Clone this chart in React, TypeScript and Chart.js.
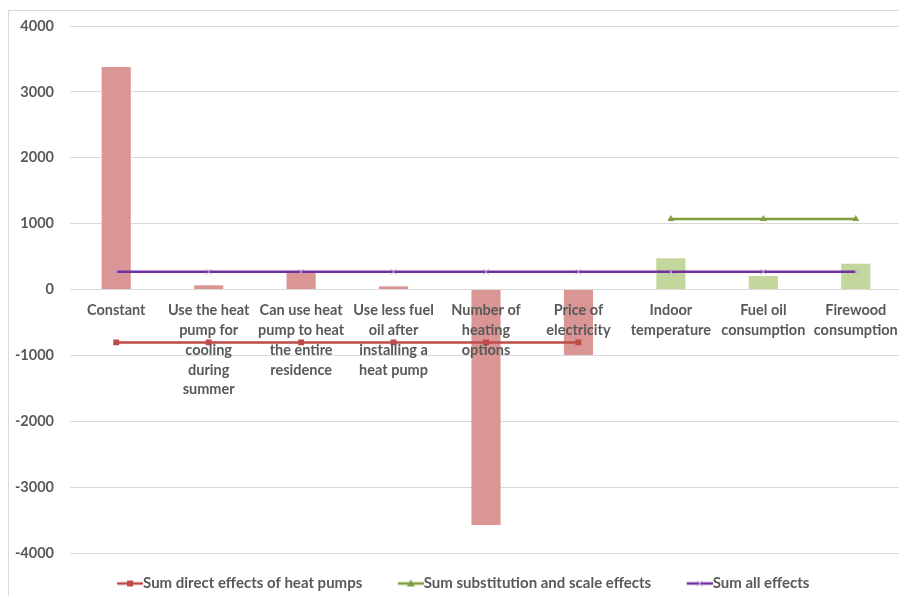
import React, { useEffect, useRef } from 'react';
import { Chart, registerables } from 'chart.js';

Chart.register(...registerables);

const categories: string[][] = [
  ['Constant'],
  ['Use the heat', 'pump for', 'cooling', 'during', 'summer'],
  ['Can use heat', 'pump to heat', 'the entire', 'residence'],
  ['Use less fuel', 'oil after', 'installing a', 'heat pump'],
  ['Number of', 'heating', 'options'],
  ['Price of', 'electricity'],
  ['Indoor', 'temperature'],
  ['Fuel oil', 'consumption'],
  ['Firewood', 'consumption'],
];
const effectValues = [3376, 64, 280, 48, -3576, -995, 474, 205, 392];
const effectGroup = ['direct', 'direct', 'direct', 'direct', 'direct', 'direct', 'subst', 'subst', 'subst'];
const directSum = [-803, -803, -803, -803, -803, -803, null, null, null];
const substSum = [null, null, null, null, null, null, 1071, 1071, 1071];
const allSum = [268, 268, 268, 268, 268, 268, 268, 268, 268];
const seriesNames = ['Sum direct effects of heat pumps', 'Sum substitution and scale effects', 'Sum all effects'];
const yMin = -4000;
const yMax = 4000;
const yStep = 1000;

const RED_BAR = '#d99694';
const GREEN_BAR = '#c3d69b';
const RED_LINE = '#be4b48';
const GREEN_LINE = '#7f9f3f';
const PURPLE_LINE = '#7030a0';
const TEXT = '#595959';
const GRID = '#d9d9d9';
const FONT = 'Lato, "Open Sans", sans-serif';

function drawMarker(ctx: CanvasRenderingContext2D, style: string, x: number, y: number, color: string) {
  ctx.save();
  ctx.fillStyle = color;
  ctx.strokeStyle = color;
  if (style === 'rect') {
    ctx.fillRect(x - 3, y - 3, 6, 6);
  } else if (style === 'triangle') {
    ctx.beginPath();
    ctx.moveTo(x, y - 4);
    ctx.lineTo(x + 4, y + 3);
    ctx.lineTo(x - 4, y + 3);
    ctx.closePath();
    ctx.fill();
  } else {
    ctx.lineWidth = 1;
    ctx.strokeStyle = '#b9a3cf';
    ctx.beginPath();
    ctx.moveTo(x - 3, y - 3);
    ctx.lineTo(x + 3, y + 3);
    ctx.moveTo(x + 3, y - 3);
    ctx.lineTo(x - 3, y + 3);
    ctx.stroke();
  }
  ctx.restore();
}

function makeIcon(color: string, style: string, w: number): HTMLCanvasElement {
  const c = document.createElement('canvas');
  c.width = w;
  c.height = 12;
  const ctx = c.getContext('2d')!;
  ctx.strokeStyle = color;
  ctx.lineWidth = 2.5;
  ctx.beginPath();
  ctx.moveTo(w - 26, 6);
  ctx.lineTo(w, 6);
  ctx.stroke();
  drawMarker(ctx, style, w - 13, 6, color);
  return c;
}

const categoryLabelPlugin = {
  id: 'categoryLabels',
  afterLayout(chart: any) {
    if (chart.legend) {
      chart.legend.left -= 9;
      chart.legend.right -= 9;
      chart.legend.top += 3;
      chart.legend.bottom += 3;
    }
  },
  afterDatasetsDraw(chart: any) {
    const { ctx, scales } = chart;
    const x = scales.x;
    const y = scales.y;
    const y0 = y.getPixelForValue(0) + 14;
    ctx.save();
    ctx.font = `bold 14.5px ${FONT}`;
    ctx.fillStyle = TEXT;
    ctx.textAlign = 'center';
    ctx.textBaseline = 'top';
    categories.forEach((lines, i) => {
      const px = x.getPixelForValue(i);
      lines.forEach((line, j) => {
        ctx.fillText(line, px, y0 + j * 19.7);
      });
    });
    ctx.restore();
  },
};

export default function App() {
  const ref = useRef<HTMLCanvasElement | null>(null);

  useEffect(() => {
    if (!ref.current) return;
    const icons = [makeIcon(RED_LINE, 'rect', 65), makeIcon(GREEN_LINE, 'triangle', 65), makeIcon(PURPLE_LINE, 'cross', 65)];
    const chart = new Chart(ref.current, {
      type: 'bar',
      data: {
        labels: categories.map((c) => c.join(' ')),
        datasets: [
          {
            type: 'bar',
            label: 'Effects',
            data: effectValues,
            backgroundColor: effectGroup.map((g) => (g === 'direct' ? RED_BAR : GREEN_BAR)),
            barPercentage: 0.315,
            categoryPercentage: 1,
            order: 4,
          } as any,
          {
            type: 'line',
            label: seriesNames[0],
            data: directSum,
            borderColor: RED_LINE,
            backgroundColor: RED_LINE,
            borderWidth: 2.5,
            pointStyle: 'rect',
            pointRadius: 4.2,
            pointBorderWidth: 0,
            spanGaps: false,
            order: 2,
          },
          {
            type: 'line',
            label: seriesNames[1],
            data: substSum,
            borderColor: GREEN_LINE,
            backgroundColor: GREEN_LINE,
            borderWidth: 2.5,
            pointStyle: 'triangle',
            pointRadius: 4,
            pointBorderWidth: 0,
            order: 3,
          },
          {
            type: 'line',
            label: seriesNames[2],
            data: allSum,
            borderColor: PURPLE_LINE,
            backgroundColor: '#b9a3cf',
            borderWidth: 2.5,
            pointStyle: 'crossRot',
            pointRadius: 4,
            pointBorderWidth: 1,
            pointBorderColor: '#b9a3cf',
            order: 1,
          },
        ],
      },
      options: {
        animation: false,
        responsive: true,
        maintainAspectRatio: false,
        layout: { padding: { top: 15, right: 3, left: 0, bottom: 0 } },
        scales: {
          x: {
            display: true,
            grid: { display: false },
            border: { display: false },
            ticks: { display: false },
            afterFit: (s: any) => {
              s.height = 16;
              s.paddingLeft = 0;
              s.paddingRight = 0;
            },
          },
          y: {
            min: yMin,
            max: yMax,
            grid: { color: GRID, drawTicks: false, lineWidth: 1 },
            border: { display: false },
            ticks: {
              stepSize: yStep,
              padding: 16,
              color: TEXT,
              font: { family: FONT, size: 14.5, weight: 'bold' },
              callback: (v: any) => String(v),
            },
            afterFit: (s: any) => {
              s.width = 61;
              s.paddingTop = 0;
              s.paddingBottom = 0;
            },
          },
        },
        plugins: {
          tooltip: { enabled: false },
          legend: {
            position: 'bottom',
            labels: {
              usePointStyle: true,
              pointStyleWidth: 50,
              padding: 4,
              color: TEXT,
              font: { family: FONT, size: 15, weight: 'bold' },
              generateLabels: () =>
                seriesNames.map((name, i) => ({
                  text: name,
                  pointStyle: icons[i] as any,
                  fillStyle: 'transparent',
                  strokeStyle: 'transparent',
                  lineWidth: 0,
                  hidden: false,
                  datasetIndex: i + 1,
                  fontColor: TEXT,
                })),
            },
          },
        },
      },
      plugins: [categoryLabelPlugin],
    } as any);
    return () => chart.destroy();
  }, []);

  return (
    <div
      style={{
        width: 899,
        height: 588,
        top: 2,
        borderTop: '1px solid #d9d9d9',
        borderLeft: '1px solid #d9d9d9',
        boxSizing: 'border-box',
        position: 'relative',
        background: '#fff',
      }}
    >
      <canvas ref={ref} />
    </div>
  );
}
